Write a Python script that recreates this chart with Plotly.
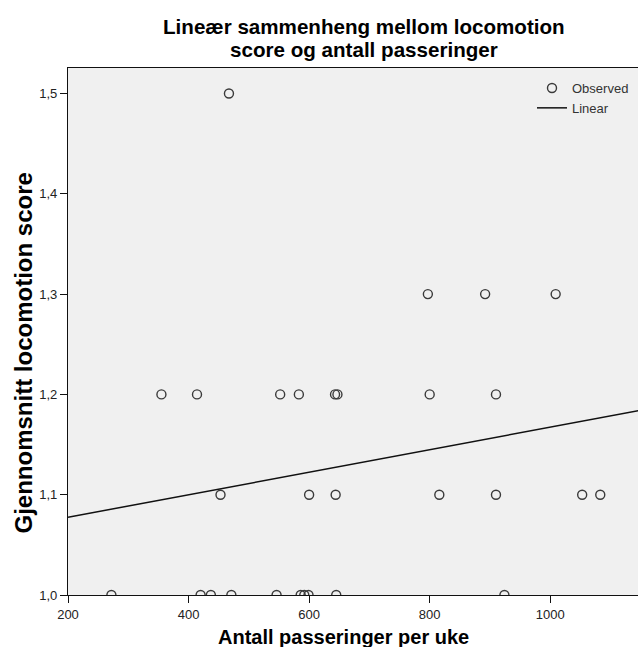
import plotly.graph_objects as go

# Observed points: x = passages per week, y = mean locomotion score
obs_x = [467,
         797, 892, 1009,
         355, 414, 552, 583, 643, 647, 800, 910,
         453, 600, 644, 816, 910, 1053, 1083,
         272, 420, 437, 471, 546, 586, 592, 599, 645, 924]
obs_y = [1.5,
         1.3, 1.3, 1.3,
         1.2, 1.2, 1.2, 1.2, 1.2, 1.2, 1.2, 1.2,
         1.1, 1.1, 1.1, 1.1, 1.1, 1.1, 1.1,
         1.0, 1.0, 1.0, 1.0, 1.0, 1.0, 1.0, 1.0, 1.0, 1.0]

# Linear fit line (at the axis ends)
lin_x = [200, 1146]
lin_y = [1.0775, 1.1837]

x_ticks = [200, 400, 600, 800, 1000]
y_ticks = [1.0, 1.1, 1.2, 1.3, 1.4, 1.5]

title_lines = ["Lineær sammenheng mellom locomotion", "score og antall passeringer"]

FONT = "Liberation Sans, Arial, sans-serif"

fig = go.Figure()
fig.add_trace(go.Scatter(
    x=obs_x, y=obs_y, mode="markers", name="Observed",
    marker=dict(symbol="circle-open", size=9, color="#3a3a3a",
                line=dict(width=1.4, color="#3a3a3a")),
))
fig.add_trace(go.Scatter(
    x=lin_x, y=lin_y, mode="lines", name="Linear",
    line=dict(color="#111111", width=1.5),
))

L, R, T, B = 68, 0, 68, 52
W, H = 638, 647
pw, ph = W - L - R, H - T - B

def px2paper_x(px):
    return (px - L) / pw

def px2paper_y(py):
    return (H - B - py) / ph

annotations = [
    dict(text="<b>Antall passeringer per uke</b>", xref="paper", yref="paper",
         x=px2paper_x(343.5), y=px2paper_y(637), xanchor="center", yanchor="middle",
         showarrow=False, font=dict(family=FONT, size=20, color="#000")),
    dict(text="<b>Gjennomsnitt locomotion score</b>", xref="paper", yref="paper",
         x=px2paper_x(23), y=px2paper_y(353.5), xanchor="center", yanchor="middle",
         textangle=-90, showarrow=False,
         font=dict(family=FONT, size=24, color="#000")),
]
for line_text, ypx in zip(title_lines, [26, 50]):
    annotations.append(dict(
        text="<b>" + line_text + "</b>", xref="paper", yref="paper",
        x=px2paper_x(364), y=px2paper_y(ypx), xanchor="center", yanchor="middle",
        showarrow=False, font=dict(family=FONT, size=20.6, color="#000")))

fig.update_layout(
    width=W, height=H,
    margin=dict(l=L, r=R, t=T, b=B, pad=0),
    paper_bgcolor="white",
    plot_bgcolor="#f0f0f0",
    separators=", ",
    font=dict(family=FONT, size=13, color="#222"),
    showlegend=True,
    legend=dict(
        x=px2paper_x(532), y=px2paper_y(73), xanchor="left", yanchor="top",
        bgcolor="rgba(0,0,0,0)", borderwidth=0,
        font=dict(family=FONT, size=13, color="#333"),
        tracegroupgap=0, itemwidth=30,
    ),
    xaxis=dict(
        range=[200, 1145.6], tickvals=x_ticks,
        showgrid=False, zeroline=False,
        showline=True, linecolor="#111", linewidth=1.2, mirror=True,
        ticks="outside", ticklen=7, tickcolor="#111", tickwidth=1.2,
        tickfont=dict(family=FONT, size=13, color="#222"),
    ),
    yaxis=dict(
        range=[1.0, 1.5254], tickvals=y_ticks, tickformat=".1f",
        showgrid=False, zeroline=False,
        showline=True, linecolor="#111", linewidth=1.2,
        ticks="outside", ticklen=7, tickcolor="#111", tickwidth=1.2,
        tickfont=dict(family=FONT, size=13, color="#222"),
    ),
    annotations=annotations,
)

fig.write_html("out.html")
